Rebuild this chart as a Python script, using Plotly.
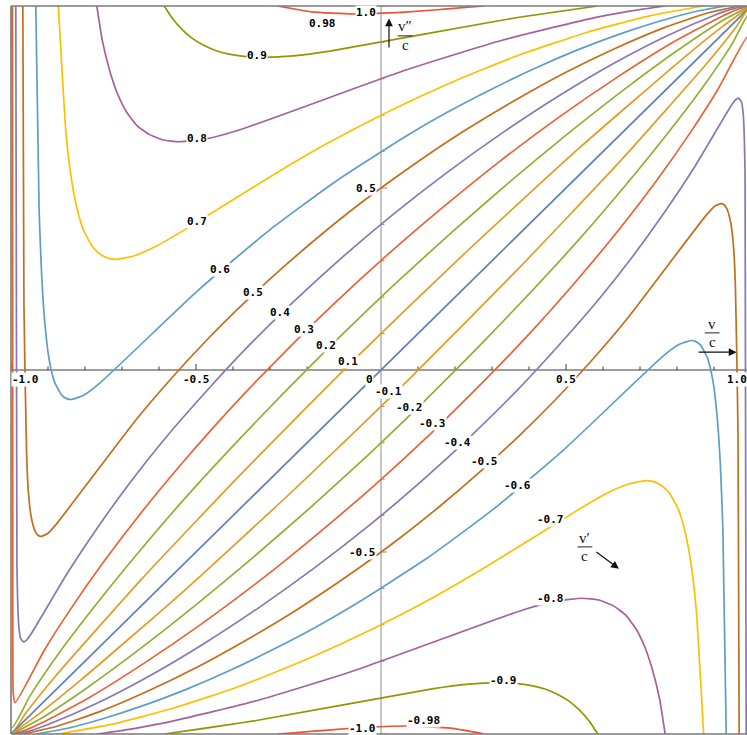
import plotly.graph_objects as go

# ---------------- data ----------------
LEVELS = [0.98, 0.9, 0.8, 0.7, 0.6, 0.5, 0.4, 0.3, 0.2, 0.1, 0.0,
          -0.1, -0.2, -0.3, -0.4, -0.5, -0.6, -0.7, -0.8, -0.9, -0.98]
LEVEL_LABELS = ["0.98", "0.9", "0.8", "0.7", "0.6", "0.5", "0.4", "0.3", "0.2", "0.1", "0",
                "-0.1", "-0.2", "-0.3", "-0.4", "-0.5", "-0.6", "-0.7", "-0.8", "-0.9", "-0.98"]

X_P010 = [-1.0, -1.0, -0.959, -0.877, -0.644, -0.37, -0.072, 0.235, 0.536, 0.815, 0.926, 0.995]
Y_P010 = [1.0, -0.999, -0.941, -0.838, -0.571, -0.277, 0.029, 0.329, 0.61, 0.855, 0.946, 0.997]
X_P020 = [-0.999, -0.998, -0.949, -0.874, -0.776, -0.662, -0.539, -0.405, -0.264, -0.118, 0.035,
          0.191, 0.347, 0.501, 0.655, 0.797, 0.918, 0.995]
Y_P020 = [1.0, -0.983, -0.896, -0.783, -0.652, -0.509, -0.363, -0.214, -0.064, 0.085, 0.234,
          0.378, 0.516, 0.646, 0.769, 0.875, 0.957, 0.999]
X_P030 = [-0.996, -0.995, -0.994, -0.989, -0.91, -0.839, -0.748, -0.645, -0.529, -0.405, -0.272,
          -0.133, 0.017, 0.171, 0.327, 0.483, 0.641, 0.787, 0.914, 0.962, 0.995]
Y_P030 = [1.0, -0.761, -0.887, -0.914, -0.77, -0.657, -0.525, -0.388, -0.246, -0.104, 0.037,
          0.176, 0.316, 0.45, 0.578, 0.696, 0.806, 0.899, 0.968, 0.99, 1.0]
X_P040 = [-0.987, -0.984, -0.979, -0.974, -0.966, -0.958, -0.945, -0.847, -0.762, -0.678, -0.586,
          -0.477, -0.362, -0.239, -0.111, 0.032, 0.179, 0.329, 0.479, 0.632, 0.775, 0.9, 0.95, 0.987]
Y_P040 = [1.0, -0.533, -0.703, -0.737, -0.747, -0.742, -0.724, -0.557, -0.427, -0.309, -0.191,
          -0.064, 0.062, 0.185, 0.304, 0.427, 0.543, 0.652, 0.752, 0.844, 0.919, 0.974, 0.992, 1.0]
X_P050 = [-0.968, -0.965, -0.958, -0.953, -0.945, -0.934, -0.927, -0.919, -0.902, -0.878, -0.663,
          -0.571, -0.474, -0.374, -0.268, -0.158, -0.044, 0.088, 0.222, 0.359, 0.496, 0.634, 0.764,
          0.88, 0.968]
Y_P050 = [1.0, 0.18, -0.224, -0.336, -0.406, -0.445, -0.454, -0.457, -0.45, -0.424, -0.138,
          -0.028, 0.079, 0.18, 0.279, 0.375, 0.467, 0.564, 0.655, 0.739, 0.816, 0.884, 0.94,
          0.98, 1.0]
X_P060 = [-0.933, -0.924, -0.917, -0.908, -0.897, -0.882, -0.863, -0.851, -0.838, -0.805, -0.76,
          -0.493, -0.303, -0.123, 0.065, 0.179, 0.296, 0.412, 0.528, 0.643, 0.752, 0.85, 0.933]
Y_P060 = [1.0, 0.438, 0.257, 0.123, 0.029, -0.034, -0.069, -0.078, -0.081, -0.07, -0.036,
          0.22, 0.383, 0.518, 0.641, 0.708, 0.77, 0.827, 0.878, 0.922, 0.958, 0.985, 1.0]
X_P070 = [-0.872, -0.852, -0.839, -0.823, -0.804, -0.78, -0.766, -0.751, -0.734, -0.715, -0.667,
          -0.604, -0.528, -0.285, -0.146, 0.026, 0.199, 0.38, 0.558, 0.726, 0.872]
Y_P070 = [1.0, 0.659, 0.54, 0.45, 0.384, 0.339, 0.324, 0.313, 0.306, 0.304, 0.314,
          0.342, 0.387, 0.54, 0.622, 0.713, 0.794, 0.868, 0.928, 0.973, 1.0]
X_P080 = [-0.768, -0.753, -0.734, -0.713, -0.689, -0.661, -0.628, -0.589, -0.544, -0.473, -0.381,
          0.067, 0.327, 0.56, 0.668, 0.768]
Y_P080 = [1.0, 0.904, 0.825, 0.761, 0.711, 0.673, 0.648, 0.632, 0.627, 0.635, 0.66,
          0.824, 0.906, 0.964, 0.985, 1.0]
X_P090 = [-0.586, -0.563, -0.538, -0.51, -0.479, -0.445, -0.407, -0.364, -0.316, -0.237, -0.138,
          0.337, 0.586]
Y_P090 = [1.0, 0.965, 0.936, 0.911, 0.892, 0.877, 0.867, 0.861, 0.859, 0.863, 0.876, 0.963, 1.0]
X_P098 = [-0.279, -0.188, -0.075, 0.064, 0.279]
Y_P098 = [1.0, 0.984, 0.978, 0.983, 1.0]

X_ZERO = [-1.0, 1.0]
Y_ZERO = [-1.0, 1.0]

X_M010 = [1.0, 1.0, 0.959, 0.877, 0.644, 0.37, 0.072, -0.235, -0.536, -0.815, -0.926, -0.995]
Y_M010 = [-1.0, 0.999, 0.941, 0.838, 0.571, 0.277, -0.029, -0.329, -0.61, -0.855, -0.946, -0.997]
X_M020 = [0.999, 0.998, 0.949, 0.874, 0.776, 0.662, 0.539, 0.405, 0.264, 0.118, -0.035,
          -0.191, -0.347, -0.501, -0.655, -0.797, -0.918, -0.995]
Y_M020 = [-1.0, 0.983, 0.896, 0.783, 0.652, 0.509, 0.363, 0.214, 0.064, -0.085, -0.234,
          -0.378, -0.516, -0.646, -0.769, -0.875, -0.957, -0.999]
X_M030 = [0.996, 0.995, 0.994, 0.989, 0.91, 0.839, 0.748, 0.645, 0.529, 0.405, 0.272,
          0.133, -0.017, -0.171, -0.327, -0.483, -0.641, -0.787, -0.914, -0.962, -0.995]
Y_M030 = [-1.0, 0.761, 0.887, 0.914, 0.77, 0.657, 0.525, 0.388, 0.246, 0.104, -0.037,
          -0.176, -0.316, -0.45, -0.578, -0.696, -0.806, -0.899, -0.968, -0.99, -1.0]
X_M040 = [0.987, 0.984, 0.979, 0.974, 0.966, 0.958, 0.945, 0.847, 0.762, 0.678, 0.586,
          0.477, 0.362, 0.239, 0.111, -0.032, -0.179, -0.329, -0.479, -0.632, -0.775, -0.9, -0.95, -0.987]
Y_M040 = [-1.0, 0.533, 0.703, 0.737, 0.747, 0.742, 0.724, 0.557, 0.427, 0.309, 0.191,
          0.064, -0.062, -0.185, -0.304, -0.427, -0.543, -0.652, -0.752, -0.844, -0.919, -0.974, -0.992, -1.0]
X_M050 = [0.968, 0.965, 0.958, 0.953, 0.945, 0.934, 0.927, 0.919, 0.902, 0.878, 0.663,
          0.571, 0.474, 0.374, 0.268, 0.158, 0.044, -0.088, -0.222, -0.359, -0.496, -0.634, -0.764,
          -0.88, -0.968]
Y_M050 = [-1.0, -0.18, 0.224, 0.336, 0.406, 0.445, 0.454, 0.457, 0.45, 0.424, 0.138,
          0.028, -0.079, -0.18, -0.279, -0.375, -0.467, -0.564, -0.655, -0.739, -0.816, -0.884, -0.94,
          -0.98, -1.0]
X_M060 = [0.933, 0.924, 0.917, 0.908, 0.897, 0.882, 0.863, 0.851, 0.838, 0.805, 0.76,
          0.493, 0.303, 0.123, -0.065, -0.179, -0.296, -0.412, -0.528, -0.643, -0.752, -0.85, -0.933]
Y_M060 = [-1.0, -0.438, -0.257, -0.123, -0.029, 0.034, 0.069, 0.078, 0.081, 0.07, 0.036,
          -0.22, -0.383, -0.518, -0.641, -0.708, -0.77, -0.827, -0.878, -0.922, -0.958, -0.985, -1.0]
X_M070 = [0.872, 0.852, 0.839, 0.823, 0.804, 0.78, 0.766, 0.751, 0.734, 0.715, 0.667,
          0.604, 0.528, 0.285, 0.146, -0.026, -0.199, -0.38, -0.558, -0.726, -0.872]
Y_M070 = [-1.0, -0.659, -0.54, -0.45, -0.384, -0.339, -0.324, -0.313, -0.306, -0.304, -0.314,
          -0.342, -0.387, -0.54, -0.622, -0.713, -0.794, -0.868, -0.928, -0.973, -1.0]
X_M080 = [0.768, 0.753, 0.734, 0.713, 0.689, 0.661, 0.628, 0.589, 0.544, 0.473, 0.381,
          -0.067, -0.327, -0.56, -0.668, -0.768]
Y_M080 = [-1.0, -0.904, -0.825, -0.761, -0.711, -0.673, -0.648, -0.632, -0.627, -0.635, -0.66,
          -0.824, -0.906, -0.964, -0.985, -1.0]
X_M090 = [0.586, 0.563, 0.538, 0.51, 0.479, 0.445, 0.407, 0.364, 0.316, 0.237, 0.138,
          -0.337, -0.586]
Y_M090 = [-1.0, -0.965, -0.936, -0.911, -0.892, -0.877, -0.867, -0.861, -0.859, -0.863, -0.876,
          -0.963, -1.0]
X_M098 = [0.279, 0.188, 0.075, -0.064, -0.279]
Y_M098 = [-1.0, -0.984, -0.978, -0.983, -1.0]

# contour label anchor positions (data coords)
LABEL_X = [-0.157, -0.335, -0.497, -0.497, -0.435, -0.346, -0.273, -0.208, -0.149, -0.089, -0.032,
           0.019, 0.078, 0.138, 0.208, 0.281, 0.368, 0.457, 0.459, 0.330, 0.116]
LABEL_Y = [0.953, 0.863, 0.635, 0.407, 0.277, 0.212, 0.159, 0.110, 0.066, 0.022, -0.027,
           -0.060, -0.102, -0.146, -0.198, -0.250, -0.316, -0.412, -0.629, -0.852, -0.962]

X_TICK_LABELS = ["-1.0", "-0.5", "0.5", "1.0"]
X_TICK_LABEL_POS = [-0.962, -0.5, 0.5, 0.962]
Y_TICK_LABELS = ["1.0", "0.5", "-0.5", "-1.0"]
Y_TICK_LABEL_POS = [0.981, 0.5, -0.5, -0.984]
MAJOR_TICKS = [-1.0, -0.5, 0.5, 1.0]
MINOR_TICKS = [-0.9, -0.8, -0.7, -0.6, -0.4, -0.3, -0.2, -0.1,
               0.1, 0.2, 0.3, 0.4, 0.6, 0.7, 0.8, 0.9]

# Mathematica default palette, indexed by |level|
COLORS = {0.0: "#5E81B5", 0.1: "#E19C24", 0.2: "#8FB032", 0.3: "#EB6235", 0.4: "#8778B3",
          0.5: "#C56E1A", 0.6: "#5D9EC7", 0.7: "#FFBF00", 0.8: "#A5609D", 0.9: "#929600",
          0.98: "#E95536"}

CURVES = [
    (0.98, X_P098, Y_P098), (0.9, X_P090, Y_P090), (0.8, X_P080, Y_P080), (0.7, X_P070, Y_P070),
    (0.6, X_P060, Y_P060), (0.5, X_P050, Y_P050), (0.4, X_P040, Y_P040), (0.3, X_P030, Y_P030),
    (0.2, X_P020, Y_P020), (0.1, X_P010, Y_P010), (0.0, X_ZERO, Y_ZERO),
    (-0.1, X_M010, Y_M010), (-0.2, X_M020, Y_M020), (-0.3, X_M030, Y_M030), (-0.4, X_M040, Y_M040),
    (-0.5, X_M050, Y_M050), (-0.6, X_M060, Y_M060), (-0.7, X_M070, Y_M070), (-0.8, X_M080, Y_M080),
    (-0.9, X_M090, Y_M090), (-0.98, X_M098, Y_M098),
]

# ---------------- figure ----------------
W, H = 747, 735
ML, MT, MB = 11, 6, 1
XMAX = -1 + (W - ML) / 370.0

fig = go.Figure()
for lev, xs, ys in CURVES:
    fig.add_trace(go.Scatter(x=xs, y=ys, mode="lines",
                             line=dict(color=COLORS[abs(lev)], width=1.7, shape="spline",
                                       smoothing=0.5),
                             hoverinfo="skip", showlegend=False))

shapes = []
# axes through the origin
shapes.append(dict(type="line", xref="x", yref="y", x0=-1, x1=1.02, y0=0, y1=0,
                   line=dict(color="#3a3a3a", width=1), layer="below"))
shapes.append(dict(type="line", xref="x", yref="y", x0=0, x1=0, y0=-1, y1=1,
                   line=dict(color="#8c8c8c", width=1), layer="below"))
for t in MAJOR_TICKS + MINOR_TICKS:
    lx = 6 if t in MAJOR_TICKS else 3.5
    shapes.append(dict(type="line", xref="x", yref="y", x0=t, x1=t, y0=0, y1=lx / 364.0,
                       line=dict(color="#3a3a3a", width=1), layer="below"))
    shapes.append(dict(type="line", xref="x", yref="y", x0=0, x1=lx / 370.0, y0=t, y1=t,
                       line=dict(color="#8c8c8c", width=1), layer="below"))
# frame (left, top, bottom)
for x0, y0, x1, y1 in [(0, 0, 0, 1), (0, 1, 1.05, 1), (0, 0, 1.05, 0)]:
    shapes.append(dict(type="line", xref="paper", yref="paper", x0=x0, y0=y0, x1=x1, y1=y1,
                       line=dict(color="#7a7a7a", width=1.6), layer="above"))

# fraction bars for axis names
FRACTIONS = [  # (numerator, xcenter, ynum, ybar, yden, halfwidth)
    ("v\u2033", 0.065, 0.945, 0.918, 0.894, 0.020),
    ("v", 0.895, 0.126, 0.102, 0.078, 0.020),
    ("v\u2032", 0.551, -0.462, -0.486, -0.510, 0.020),
]
for num, xc, yn, yb, yd, hw in FRACTIONS:
    shapes.append(dict(type="line", xref="x", yref="y", x0=xc - hw, x1=xc + hw, y0=yb, y1=yb,
                       line=dict(color="#222222", width=1)))

annotations = []
mono = dict(family="DejaVu Sans Mono", size=11, color="black")
serif = dict(family="Liberation Serif", size=15, color="#111111")
for txt, x, y in zip(LEVEL_LABELS, LABEL_X, LABEL_Y):
    annotations.append(dict(x=x, y=y, xref="x", yref="y", text="<b>" + txt + "</b>",
                            showarrow=False, font=mono, bgcolor="white", borderpad=0))
for txt, x in zip(X_TICK_LABELS, X_TICK_LABEL_POS):
    annotations.append(dict(x=x, y=-0.027, xref="x", yref="y", text="<b>" + txt + "</b>",
                            showarrow=False, font=mono, bgcolor="white", borderpad=0))
for txt, y in zip(Y_TICK_LABELS, Y_TICK_LABEL_POS):
    annotations.append(dict(x=-0.011, y=y, xref="x", yref="y", text="<b>" + txt + "</b>",
                            xanchor="right", showarrow=False, font=mono, bgcolor="white", borderpad=0))
for num, xc, yn, yb, yd, hw in FRACTIONS:
    annotations.append(dict(x=xc, y=yn, xref="x", yref="y", text=num, showarrow=False, font=serif))
    annotations.append(dict(x=xc, y=yd, xref="x", yref="y", text="c", showarrow=False, font=serif))

# arrows next to the axis names
ARROWS = [  # (tail x, tail y, head x, head y)
    (0.0216, 0.882, 0.0216, 0.966),
    (0.854, 0.049, 0.961, 0.049),
    (0.578, -0.497, 0.643, -0.546),
]
for tx, ty, hx, hy in ARROWS:
    annotations.append(dict(x=hx, y=hy, ax=tx, ay=ty, xref="x", yref="y", axref="x", ayref="y",
                            text="", showarrow=True, arrowhead=2, arrowsize=1.3, arrowwidth=1.2,
                            arrowcolor="#111111"))

fig.update_layout(
    width=W, height=H, margin=dict(l=ML, r=0, t=MT, b=MB, pad=0),
    xaxis=dict(range=[-1, XMAX], visible=False, fixedrange=True),
    yaxis=dict(range=[-1, 1], visible=False, fixedrange=True),
    plot_bgcolor="white", paper_bgcolor="white",
    shapes=shapes, annotations=annotations, showlegend=False,
)
fig.write_html("out.html", config={"displayModeBar": False},
               post_script="document.body.style.margin='0';document.body.style.overflow='hidden';")
